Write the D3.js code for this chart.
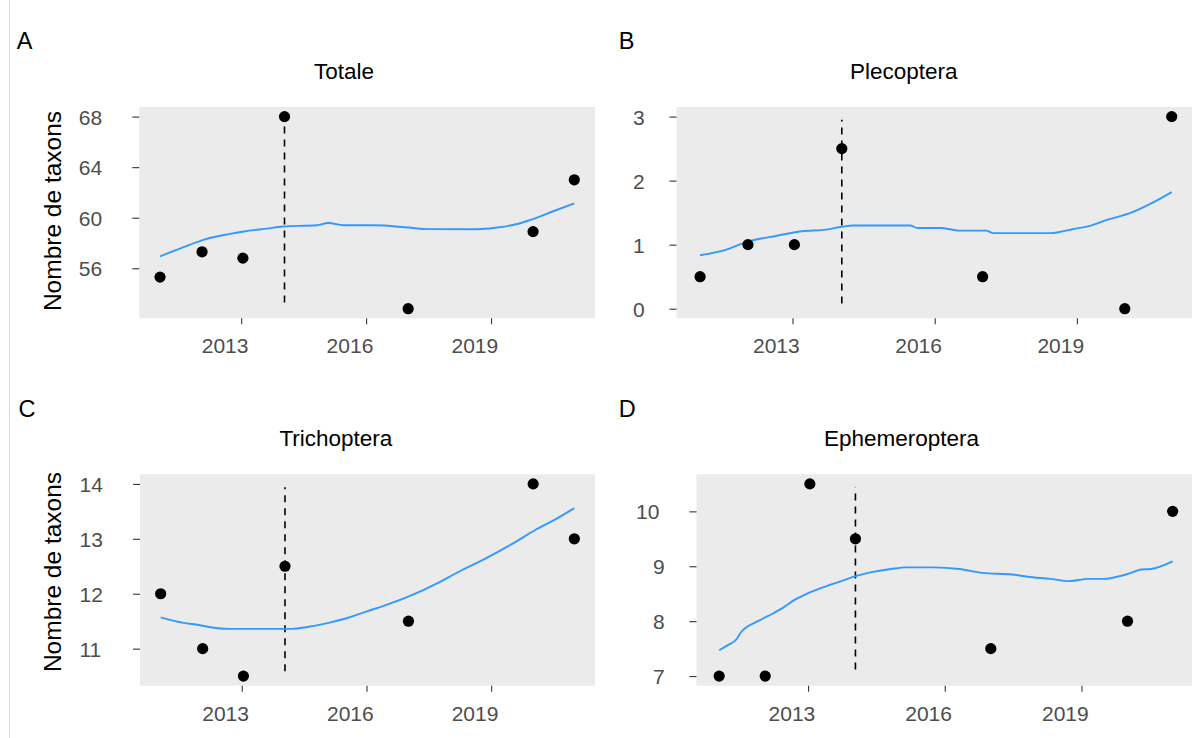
<!DOCTYPE html>
<html>
<head>
<meta charset="utf-8">
<script src="https://cdn.jsdelivr.net/npm/d3@7"></script>
<style>
    body { margin: 0; background: #fff; }
    svg text { font-family: "Liberation Sans", Arial, sans-serif; }
</style>
</head>
<body>
<div id="chart"></div>
<script>
// sampling dates, as decimal years
const years = [2011.05, 2012.06, 2013.04, 2014.04, 2017.01, 2020.01, 2021.0];
const dateLine = 2014.04;
const xTicks = [2013, 2016, 2019];

// number of taxa per group
const totale = [55.3, 57.3, 56.8, 68, 52.8, 58.9, 63];
const plecoptera = [0.5, 1, 1, 2.5, 0.5, 0, 3];
const trichoptera = [12, 11, 10.5, 12.5, 11.5, 14, 13];
const ephemeroptera = [7, 7, 10.5, 9.5, 7.5, 8, 10];

// loess curves [year, value]
const totaleSmooth = [[2011.05, 56.94], [2011.6, 57.65], [2012.15, 58.3], [2012.7, 58.7], [2013.07, 58.91],
    [2013.62, 59.14], [2014.01, 59.3], [2014.82, 59.4], [2015.09, 59.58], [2015.46, 59.4], [2016.2, 59.4],
    [2017.02, 59.22], [2017.5, 59.1], [2018.68, 59.09], [2019.14, 59.22], [2019.5, 59.4], [2019.87, 59.74],
    [2020.51, 60.53], [2021.0, 61.13]];
const plecopteraSmooth = [[2011.05, 0.835], [2011.59, 0.92], [2012.03, 1.04], [2012.67, 1.14], [2013.19, 1.21],
    [2013.71, 1.235], [2014.04, 1.28], [2014.28, 1.3], [2015.48, 1.3], [2015.64, 1.26], [2016.12, 1.26],
    [2016.52, 1.22], [2017.08, 1.22], [2017.24, 1.18], [2018.44, 1.18], [2018.93, 1.245], [2019.25, 1.29],
    [2019.65, 1.39], [2020.13, 1.495], [2020.61, 1.66], [2021.0, 1.82]];
const trichopteraSmooth = [[2011.05, 11.57], [2011.6, 11.47], [2011.97, 11.43], [2012.25, 11.39], [2012.7, 11.36],
    [2014.22, 11.36], [2014.54, 11.39], [2015.09, 11.47], [2015.46, 11.54], [2016.01, 11.68], [2016.38, 11.77],
    [2017.02, 11.95], [2017.76, 12.21], [2018.22, 12.4], [2018.86, 12.64], [2019.6, 12.95], [2020.06, 13.16],
    [2020.51, 13.34], [2021.0, 13.56]];
const ephemeropteraSmooth = [[2011.05, 7.47], [2011.23, 7.56], [2011.44, 7.68], [2011.52, 7.79], [2011.9, 8.0],
    [2012.23, 8.14], [2012.48, 8.26], [2012.65, 8.36], [2012.98, 8.5], [2013.31, 8.61], [2013.73, 8.73],
    [2014.04, 8.82], [2014.32, 8.88], [2014.82, 8.95], [2015.15, 8.98], [2015.73, 8.98], [2016.32, 8.95],
    [2016.82, 8.88], [2017.48, 8.85], [2017.82, 8.81], [2018.32, 8.77], [2018.73, 8.73], [2019.15, 8.77],
    [2019.48, 8.77], [2019.98, 8.85], [2020.32, 8.94], [2020.52, 8.95], [2021.0, 9.09]];

// y ticks
const yTicksTotale = [56, 60, 64, 68];
const yTicksPlecoptera = [0, 1, 2, 3];
const yTicksTrichoptera = [11, 12, 13, 14];
const yTicksEphemeroptera = [7, 8, 9, 10];

// extent of the dashed marker line
const dashTotale = [53.3, 67.6];
const dashPlecoptera = [0.08, 2.95];
const dashTrichoptera = [10.59, 13.94];
const dashEphemeroptera = [7.12, 10.44];

const panels = [
    {tag: "A", title: "Totale", values: totale, smooth: totaleSmooth, ticks: yTicksTotale, dash: dashTotale,
        left: 139.3, right: 595, top: 107, bottom: 318.3, tagX: 16.7, tagY: 49.3, titleX: 314, titleY: 79, yTitleY: 211},
    {tag: "B", title: "Plecoptera", values: plecoptera, smooth: plecopteraSmooth, ticks: yTicksPlecoptera, dash: dashPlecoptera,
        left: 676.5, right: 1195.3, top: 107, bottom: 318.3, tagX: 618.8, tagY: 49.3, titleX: 850, titleY: 79, yTitleY: null},
    {tag: "C", title: "Trichoptera", values: trichoptera, smooth: trichopteraSmooth, ticks: yTicksTrichoptera, dash: dashTrichoptera,
        left: 140, right: 595, top: 474.3, bottom: 685.7, tagX: 18.4, tagY: 416.7, titleX: 279.4, titleY: 446, yTitleY: 572},
    {tag: "D", title: "Ephemeroptera", values: ephemeroptera, smooth: ephemeropteraSmooth, ticks: yTicksEphemeroptera, dash: dashEphemeroptera,
        left: 696.5, right: 1195.3, top: 474.3, bottom: 685.7, tagX: 618.8, tagY: 416.7, titleX: 824, titleY: 446, yTitleY: null}
];

const width = 1192, height = 738;

const svg = d3.select("#chart").append("svg")
    .attr("width", width)
    .attr("height", height);

// faint border on the left edge
svg.append("line")
    .attr("x1", 9.5).attr("x2", 9.5)
    .attr("y1", 0).attr("y2", height)
    .attr("stroke", "#dedede")
    .attr("stroke-width", 1);

// x domain: data range with 5% expansion (ggplot style)
let xExt = d3.extent(years);
let xPad = (xExt[1] - xExt[0]) * 0.05;
const xDomain = [xExt[0] - xPad, xExt[1] + xPad];

panels.forEach(function (p) {
    let g = svg.append("g");

    let x = d3.scaleLinear().domain(xDomain).range([p.left, p.right]);

    let ext = d3.extent(p.values);
    let pad = (ext[1] - ext[0]) * 0.05;
    let y = d3.scaleLinear().domain([ext[0] - pad, ext[1] + pad]).range([p.bottom, p.top]);

    // grey panel
    g.append("rect")
        .attr("x", p.left)
        .attr("y", p.top)
        .attr("width", p.right - p.left)
        .attr("height", p.bottom - p.top)
        .attr("fill", "#ebebeb");

    // y axis
    let yAxis = g.append("g")
        .attr("transform", "translate(" + p.left + ",0)")
        .call(d3.axisLeft(y).tickValues(p.ticks).tickSize(7).tickFormat(d3.format("d")));
    yAxis.select(".domain").remove();
    yAxis.selectAll(".tick line").attr("stroke", "#333333").attr("stroke-width", 1.1);
    yAxis.selectAll(".tick text")
        .attr("text-anchor", "start")
        .attr("x", d => -(26.5 + 17 * String(d).length))
        .attr("dy", "0.36em")
        .attr("fill", "#4d4d4d")
        .style("font-size", "21px");

    // x axis
    let xAxis = g.append("g")
        .attr("transform", "translate(0," + p.bottom + ")")
        .call(d3.axisBottom(x).tickValues(xTicks).tickSize(6).tickFormat(d3.format("d")));
    xAxis.select(".domain").remove();
    xAxis.selectAll(".tick line").attr("stroke", "#333333").attr("stroke-width", 1.1);
    xAxis.selectAll(".tick text")
        .attr("text-anchor", "start")
        .attr("x", -40)
        .attr("y", 35)
        .attr("dy", null)
        .attr("fill", "#4d4d4d")
        .style("font-size", "21px");

    // dashed marker
    g.append("line")
        .attr("x1", x(dateLine)).attr("x2", x(dateLine))
        .attr("y1", y(p.dash[0])).attr("y2", y(p.dash[1]))
        .attr("stroke", "#000")
        .attr("stroke-width", 1.6)
        .attr("stroke-dasharray", "7,6");

    // loess
    g.append("path")
        .datum(p.smooth)
        .attr("d", d3.line().x(d => x(d[0])).y(d => y(d[1])).curve(d3.curveMonotoneX))
        .attr("fill", "none")
        .attr("stroke", "#3399ff")
        .attr("stroke-width", 1.9);

    // points
    g.selectAll("circle")
        .data(p.values)
        .enter()
        .append("circle")
        .attr("cx", (d, j) => x(years[j]))
        .attr("cy", d => y(d))
        .attr("r", 5.6)
        .attr("fill", "#000");

    // title + tag
    g.append("text")
        .attr("x", p.titleX)
        .attr("y", p.titleY)
        .style("font-size", "22.5px")
        .attr("fill", "#000")
        .text(p.title);

    g.append("text")
        .attr("x", p.tagX)
        .attr("y", p.tagY)
        .style("font-size", "23.5px")
        .attr("fill", "#000")
        .text(p.tag);

    if (p.yTitleY !== null) {
        g.append("text")
            .attr("transform", "translate(61," + p.yTitleY + ") rotate(-90)")
            .attr("text-anchor", "middle")
            .style("font-size", "24.5px")
            .attr("fill", "#000")
            .text("Nombre de taxons");
    }
});
</script>
</body>
</html>
